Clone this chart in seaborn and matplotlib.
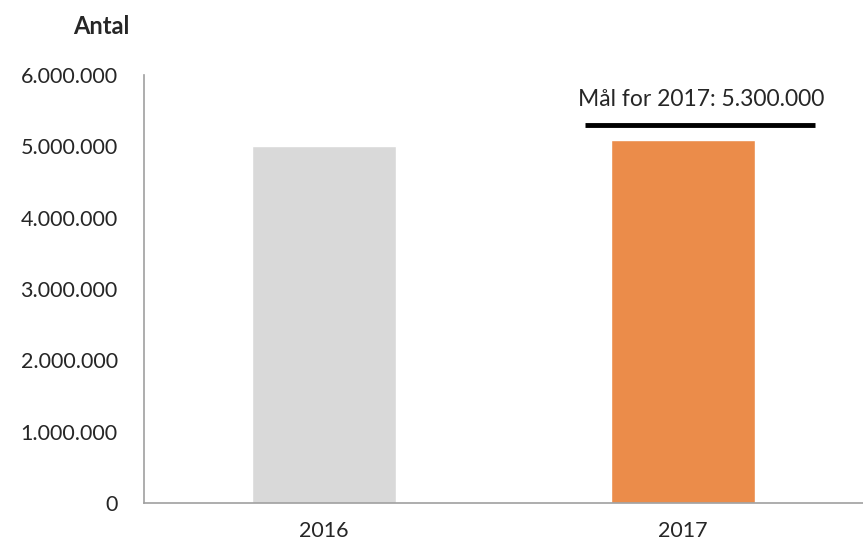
import matplotlib
matplotlib.use("Agg")
import matplotlib.pyplot as plt
import matplotlib.ticker as mticker
import pandas as pd
import seaborn as sns

# data
years = ["2016", "2017"]
counts = [5_005_000, 5_090_000]
bar_colors = ["#d9d9d9", "#eb8c4a"]
target_value = 5_300_000
target_label = "Mål for 2017: 5.300.000"

df = pd.DataFrame({"year": years, "count": counts})

sns.set_style("white")
plt.rcParams["font.family"] = ["Lato", "DejaVu Sans"]

fig = plt.figure(figsize=(8.63, 5.49), dpi=100)
ax = fig.add_axes([0.1669, 0.0838, 0.8331, 0.7796])

sns.barplot(
    data=df,
    x="year",
    y="count",
    hue="year",
    palette=bar_colors,
    width=0.4,
    legend=False,
    ax=ax,
    saturation=1,
)

ax.set_xlim(-0.5, 1.5)
ax.set_ylim(0, 6_000_000)
ax.yaxis.set_major_locator(mticker.MultipleLocator(1_000_000))
ax.yaxis.set_major_formatter(
    mticker.FuncFormatter(lambda v, _: f"{int(v):,}".replace(",", "."))
)
ax.tick_params(axis="y", length=0, pad=19, labelsize=15.5)
ax.tick_params(axis="x", which="major", length=0, pad=13, labelsize=15.5)
ax.set_xticks([-0.5, 0.5, 1.5], minor=True)
ax.tick_params(axis="x", which="minor", length=8, width=1, color="#a0a0a0", direction="out")
ax.set_xlabel("")
ax.set_ylabel("")

for side in ["top", "right"]:
    ax.spines[side].set_visible(False)
for side in ["left", "bottom"]:
    ax.spines[side].set_color("#a0a0a0")
    ax.spines[side].set_linewidth(1.2)

# target line over 2017
ax.hlines(target_value, 0.728, 1.367, color="black", linewidth=3.5)
ax.text(1.05, target_value + 360_000, target_label, ha="center", va="center", fontsize=16.5)

fig.text(0.117, 0.952, "Antal", ha="center", va="center", fontsize=17, fontweight="bold")

fig.savefig("out.png", dpi=100)
